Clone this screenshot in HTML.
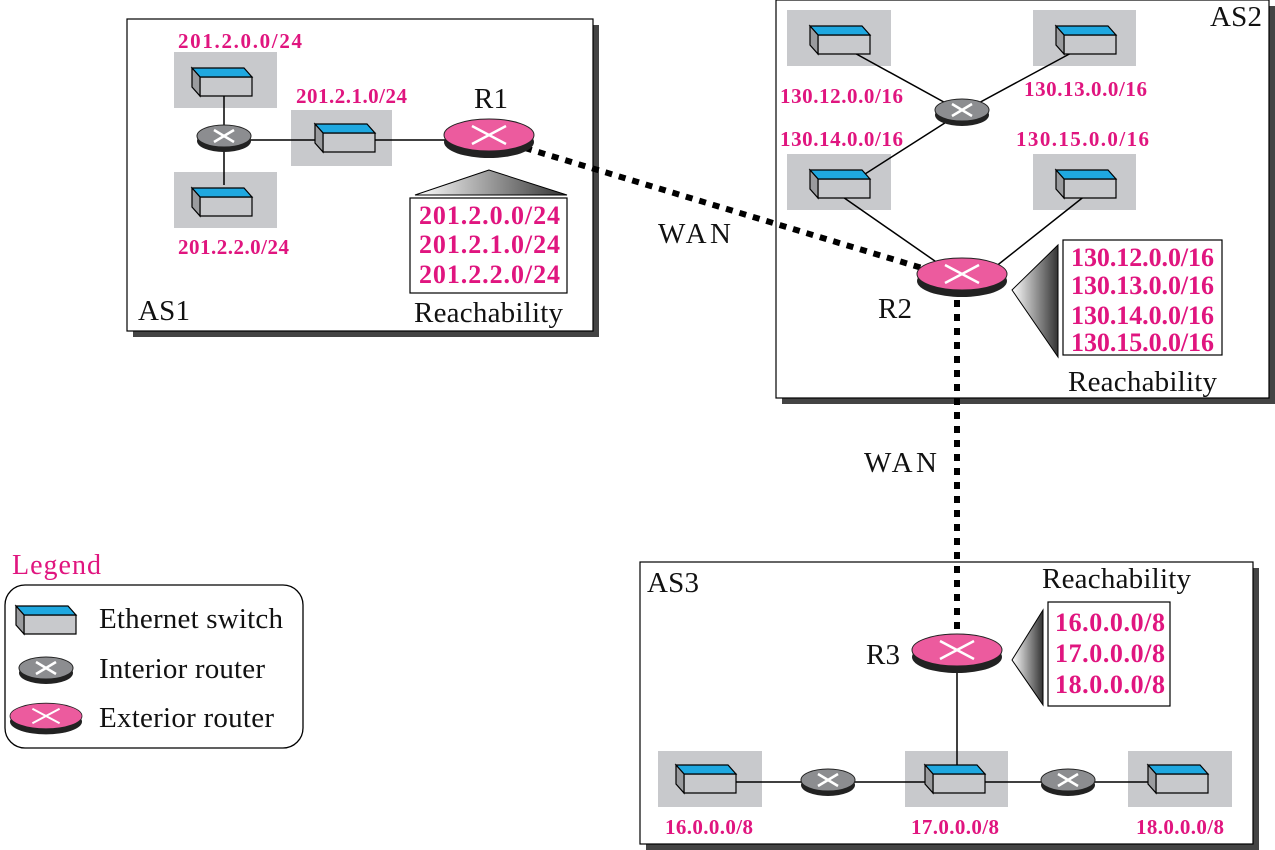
<!DOCTYPE html>
<html><head><meta charset="utf-8"><style>body{margin:0;background:#fff}svg{display:block}</style></head><body>
<svg width="1275" height="850" viewBox="0 0 1275 850" xmlns="http://www.w3.org/2000/svg" font-family="Liberation Serif, serif">
<defs>
<g id="sw">
<polygon points="-22,-3 30,-3 30,16 -22,16" fill="#c8c9cc" stroke="#000" stroke-width="1.2"/>
<polygon points="-30,-12 22,-12 30,-3 -22,-3" fill="#1fa8e0" stroke="#000" stroke-width="1.2"/>
<polygon points="-30,-12 -22,-3 -22,16 -30,7" fill="#9a9b9e" stroke="#000" stroke-width="1.2"/>
</g>
<g id="ir">
<ellipse cx="0" cy="5" rx="27" ry="11" fill="#222"/>
<ellipse cx="0" cy="0" rx="27" ry="11" fill="#8c8d90" stroke="#222" stroke-width="1"/>
<path d="M-10,-6 L10,6 M10,-6 L-10,6" stroke="#fff" stroke-width="2.5"/>
</g>
<g id="er">
<ellipse cx="0" cy="7" rx="45" ry="16" fill="#222"/>
<ellipse cx="0" cy="0" rx="45" ry="16" fill="#ec5b9e" stroke="#222" stroke-width="1"/>
<path d="M-17,-9 L17,9 M17,-9 L-17,9" stroke="#fff" stroke-width="2.5"/>
</g>
<linearGradient id="gh" x1="0" x2="1" y1="0" y2="0"><stop offset="0" stop-color="#fff"/><stop offset="1" stop-color="#333"/></linearGradient>
</defs>

<rect x="133" y="25" width="466" height="312" fill="#444"/>
<rect x="127" y="19" width="466" height="312" fill="#fff" stroke="#000" stroke-width="1.2"/>
<rect x="782" y="6" width="493" height="398" fill="#444"/>
<rect x="776" y="0" width="493" height="398" fill="#fff" stroke="#000" stroke-width="1.2"/>
<rect x="646" y="568" width="613" height="282" fill="#444"/>
<rect x="640" y="562" width="613" height="282" fill="#fff" stroke="#000" stroke-width="1.2"/>

<g fill="#c8c9cc">
<rect x="174" y="52" width="103" height="56"/><rect x="174" y="172" width="103" height="56"/><rect x="291" y="110" width="101" height="56"/>
<rect x="787" y="10" width="104" height="56"/><rect x="1033" y="10" width="103" height="56"/>
<rect x="787" y="154" width="104" height="56"/><rect x="1033" y="154" width="103" height="56"/>
<rect x="658" y="751" width="104" height="56"/><rect x="905" y="751" width="103" height="56"/><rect x="1128" y="751" width="104" height="56"/>
</g>

<g stroke="#000" stroke-width="1.5" fill="none">
<path d="M224,95 V185 M224,140 H345 M345,140 H489"/>
<path d="M840,45 L962,112 L1086,45 M962,112 L840,190 M840,195 L955,275 M1086,195 L985,275"/>
<path d="M706,782 H1178 M957,655 V782"/>
</g>
<g stroke="#000" stroke-width="6" stroke-dasharray="7,7" fill="none">
<path d="M525,148 L922,268"/>
<path d="M957,300 V632"/>
</g>

<use href="#sw" x="222" y="80"/><use href="#sw" x="222" y="200"/><use href="#sw" x="345" y="136"/>
<use href="#sw" x="840" y="38"/><use href="#sw" x="1086" y="38"/><use href="#sw" x="840" y="182"/><use href="#sw" x="1086" y="182"/>
<use href="#sw" x="706" y="777"/><use href="#sw" x="955" y="777"/><use href="#sw" x="1178" y="777"/>
<use href="#ir" x="224" y="136"/><use href="#ir" x="962" y="110"/><use href="#ir" x="828" y="780"/><use href="#ir" x="1068" y="780"/>
<use href="#er" x="489" y="135"/><use href="#er" x="962" y="274"/><use href="#er" x="957" y="650"/>

<polygon points="489,170 415,195 567,195" fill="url(#gh)" stroke="#000" stroke-width="1"/>
<rect x="410" y="198" width="157" height="95" fill="#fff" stroke="#000" stroke-width="1.2"/>
<polygon points="1012,290 1058,245 1058,357" fill="url(#gh)" stroke="#000" stroke-width="1"/>
<rect x="1063" y="240" width="159" height="115" fill="#fff" stroke="#000" stroke-width="1.2"/>
<polygon points="1012,660 1043,610 1043,705" fill="url(#gh)" stroke="#000" stroke-width="1"/>
<rect x="1048" y="602" width="122" height="104" fill="#fff" stroke="#000" stroke-width="1.2"/>

<g fill="#e0157f" font-weight="bold" font-size="21">
<text x="178" y="48" textLength="124">201.2.0.0/24</text>
<text x="178" y="254" textLength="111">201.2.2.0/24</text>
<text x="296" y="103" textLength="111">201.2.1.0/24</text>
<text x="780" y="103" textLength="123">130.12.0.0/16</text>
<text x="1024" y="96" textLength="123">130.13.0.0/16</text>
<text x="780" y="146" textLength="123">130.14.0.0/16</text>
<text x="1016" y="146" textLength="133">130.15.0.0/16</text>
<text x="665" y="834" textLength="88">16.0.0.0/8</text>
<text x="911" y="834" textLength="88">17.0.0.0/8</text>
<text x="1136" y="834" textLength="88">18.0.0.0/8</text>
</g>
<g fill="#e0157f" font-weight="bold" font-size="26">
<text x="419" y="224" textLength="141">201.2.0.0/24</text>
<text x="419" y="253" textLength="141">201.2.1.0/24</text>
<text x="419" y="283" textLength="141">201.2.2.0/24</text>
<text x="1071" y="266" textLength="143">130.12.0.0/16</text>
<text x="1071" y="294" textLength="143">130.13.0.0/16</text>
<text x="1071" y="324" textLength="143">130.14.0.0/16</text>
<text x="1071" y="351" textLength="143">130.15.0.0/16</text>
<text x="1055" y="631" textLength="110">16.0.0.0/8</text>
<text x="1055" y="662" textLength="110">17.0.0.0/8</text>
<text x="1055" y="693" textLength="110">18.0.0.0/8</text>
</g>
<g fill="#111" font-size="29">
<text x="474" y="108" textLength="34">R1</text>
<text x="878" y="318" textLength="34">R2</text>
<text x="866" y="664" textLength="34">R3</text>
<text x="138" y="320" textLength="52">AS1</text>
<text x="1210" y="26" textLength="52">AS2</text>
<text x="647" y="592" textLength="52">AS3</text>
<text x="414" y="322" textLength="149">Reachability</text>
<text x="1068" y="391" textLength="149">Reachability</text>
<text x="1042" y="588" textLength="149">Reachability</text>
<text x="658" y="243" textLength="73">WAN</text>
<text x="864" y="472" textLength="73">WAN</text>
<text x="99" y="628" textLength="184">Ethernet switch</text>
<text x="99" y="678" textLength="166">Interior router</text>
<text x="99" y="727" textLength="175">Exterior router</text>
</g>
<text x="12" y="574" fill="#e0157f" font-size="28" textLength="89">Legend</text>
<rect x="5" y="585" width="298" height="163" rx="20" fill="none" stroke="#000" stroke-width="1.3"/>
<use href="#sw" x="46" y="618"/>
<use href="#ir" x="46" y="668"/>
<g transform="translate(46,716) scale(0.8)"><use href="#er"/></g>
</svg>
</body></html>
